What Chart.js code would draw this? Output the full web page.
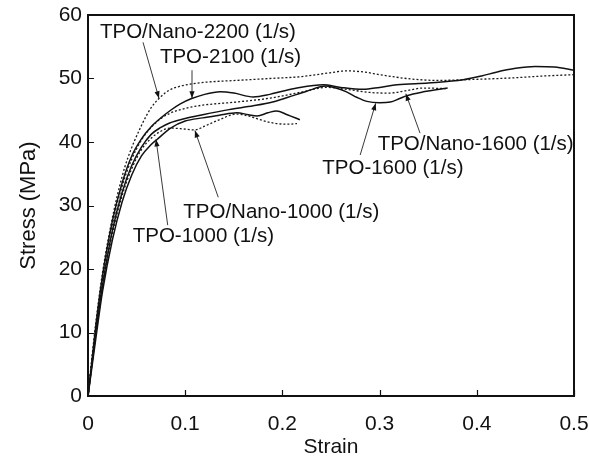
<!DOCTYPE html>
<html>
<head>
<meta charset="utf-8">
<script src="https://cdn.jsdelivr.net/npm/chart.js@4/dist/chart.umd.min.js"></script>
<style>
  html, body { margin: 0; padding: 0; background: #fff; }
  #wrap { width: 589px; height: 460px; }
</style>
</head>
<body>
<div id="wrap"><canvas id="c" width="589" height="460"></canvas></div>
<script>
// Stress-strain curves of TPO and TPO/Nano at several strain rates
const xTicks = [0, 0.1, 0.2, 0.3, 0.4, 0.5];
const yTicks = [0, 10, 20, 30, 40, 50, 60];

const tpo1000Strain = [0, 0.004, 0.008, 0.015, 0.025, 0.035, 0.045, 0.055, 0.065, 0.071, 0.085, 0.1, 0.118, 0.135, 0.153, 0.165, 0.174, 0.185, 0.194, 0.205, 0.218];
const tpo1000Stress = [0, 4.5, 9, 16.5, 24.5, 30.5, 34.8, 37.8, 39.6, 40.4, 42.2, 43.3, 43.8, 44.2, 44.6, 44.3, 44.1, 44.6, 44.9, 44.3, 43.5];

const nano1000Strain = [0, 0.004, 0.008, 0.015, 0.025, 0.035, 0.045, 0.055, 0.065, 0.075, 0.085, 0.095, 0.11, 0.12, 0.135, 0.153, 0.165, 0.175, 0.19, 0.205, 0.215];
const nano1000Stress = [0, 5, 9.5, 17, 25.5, 31.5, 35.8, 38.8, 40.6, 41.7, 42.2, 42.1, 41.9, 42.5, 43.5, 44.4, 44.1, 43.6, 43.0, 42.8, 42.9];

const tpo1600Strain = [0, 0.004, 0.008, 0.015, 0.025, 0.035, 0.045, 0.055, 0.065, 0.075, 0.084, 0.1, 0.118, 0.145, 0.17, 0.19, 0.205, 0.225, 0.245, 0.255, 0.266, 0.277, 0.287, 0.3, 0.311, 0.32, 0.328, 0.345, 0.37];
const tpo1600Stress = [0, 5, 10, 17.5, 26, 32, 36.3, 39.2, 41.2, 42.3, 43.0, 43.7, 44.3, 45.1, 45.7, 46.3, 47.0, 48.0, 48.8, 48.5, 47.9, 47.0, 46.4, 46.2, 46.3, 46.8, 47.3, 47.9, 48.5];

const nano1600Strain = [0, 0.004, 0.008, 0.015, 0.025, 0.035, 0.045, 0.055, 0.065, 0.075, 0.084, 0.1, 0.118, 0.153, 0.187, 0.221, 0.245, 0.27, 0.29, 0.31, 0.328, 0.345, 0.37];
const nano1600Stress = [0, 5.5, 10.5, 18.5, 27, 33, 37.3, 40.3, 42.3, 43.7, 44.5, 45.3, 45.8, 46.3, 46.9, 47.9, 48.6, 48.2, 47.8, 47.7, 48.1, 48.5, 48.4];

const tpo2100Strain = [0, 0.004, 0.008, 0.015, 0.025, 0.035, 0.045, 0.055, 0.065, 0.075, 0.085, 0.095, 0.106, 0.12, 0.136, 0.15, 0.17, 0.187, 0.2, 0.215, 0.242, 0.26, 0.283, 0.3, 0.318, 0.35, 0.386, 0.405, 0.42, 0.44, 0.46, 0.48, 0.5];
const tpo2100Stress = [0, 5.5, 11, 19, 27.5, 33.5, 37.8, 40.5, 42.4, 43.8, 45.0, 46.0, 46.8, 47.5, 47.9, 47.7, 47.1, 47.5, 48.0, 48.5, 49.0, 48.6, 48.3, 48.6, 49.0, 49.3, 49.8, 50.4, 51.0, 51.6, 51.9, 51.8, 51.3];

const nano2200Strain = [0, 0.004, 0.008, 0.015, 0.025, 0.035, 0.041, 0.055, 0.065, 0.074, 0.084, 0.095, 0.105, 0.12, 0.153, 0.187, 0.22, 0.249, 0.266, 0.285, 0.3, 0.334, 0.36, 0.386, 0.437, 0.47, 0.5];
const nano2200Stress = [0, 6, 11.5, 19.5, 28, 34.5, 37.5, 42.6, 45.4, 47.0, 48.2, 48.8, 49.1, 49.4, 49.7, 50.0, 50.3, 50.9, 51.2, 51.0, 50.6, 49.9, 49.7, 49.8, 50.1, 50.4, 50.6];

const seriesNames = ['TPO-1000 (1/s)', 'TPO/Nano-1000 (1/s)', 'TPO-1600 (1/s)', 'TPO/Nano-1600 (1/s)', 'TPO-2100 (1/s)', 'TPO/Nano-2200 (1/s)'];

// Callout labels: text anchor (left, middle) and arrow from tail to tip, all in data units
const callouts = [
  { text: 'TPO/Nano-2200 (1/s)', at: [0.0123, 57.2], tail: [0.0566, 55.7], tip: [0.073, 46.9] },
  { text: 'TPO-2100 (1/s)',      at: [0.074, 53.4],  tail: [0.107, 51.3],  tip: [0.107, 46.9] },
  { text: 'TPO/Nano-1600 (1/s)', at: [0.298, 39.7],  tail: [0.3416, 41.4], tip: [0.327, 47.6] },
  { text: 'TPO-1600 (1/s)',      at: [0.241, 35.9],  tail: [0.28, 37.95],  tip: [0.296, 46.1] },
  { text: 'TPO/Nano-1000 (1/s)', at: [0.098, 29.0],  tail: [0.134, 31.3],  tip: [0.110, 41.8] },
  { text: 'TPO-1000 (1/s)',      at: [0.046, 25.2],  tail: [0.082, 26.9],  tip: [0.070, 40.4] }
];

const FONT = '"Liberation Sans", Arial, Helvetica, sans-serif';

function pairs(xs, ys) { return xs.map((x, i) => ({ x: x, y: ys[i] })); }

function curve(label, xs, ys, dotted) {
  return {
    label: label,
    data: pairs(xs, ys),
    borderColor: dotted ? '#1a1a1a' : '#111',
    borderWidth: dotted ? 1.3 : 1.5,
    borderDash: dotted ? [2, 2] : [],
    pointRadius: 0,
    fill: false,
    showLine: true,
    cubicInterpolationMode: 'monotone'
  };
}

// Frame around the plot and inward tick marks on the left and bottom
const framePlugin = {
  id: 'frame',
  afterDatasetsDraw(chart) {
    const { ctx, chartArea: a, scales } = chart;
    ctx.save();
    ctx.strokeStyle = '#111';
    ctx.lineWidth = 1.2;
    ctx.beginPath();
    xTicks.forEach(v => {
      const px = Math.round(scales.x.getPixelForValue(v)) + 0.5;
      ctx.moveTo(px, a.bottom); ctx.lineTo(px, a.bottom - 6);
    });
    yTicks.forEach(v => {
      const py = Math.round(scales.y.getPixelForValue(v)) + 0.5;
      ctx.moveTo(a.left, py); ctx.lineTo(a.left + 6, py);
    });
    ctx.stroke();
    ctx.lineWidth = 2;
    ctx.strokeRect(a.left, a.top, a.right - a.left, a.bottom - a.top);
    ctx.restore();
  }
};

// Text labels with thin pointer arrows
const calloutPlugin = {
  id: 'callouts',
  afterDatasetsDraw(chart) {
    const { ctx, scales } = chart;
    const P = p => [scales.x.getPixelForValue(p[0]), scales.y.getPixelForValue(p[1])];
    ctx.save();
    ctx.font = '20.5px ' + FONT;
    ctx.fillStyle = '#111';
    ctx.textBaseline = 'middle';
    ctx.textAlign = 'left';
    callouts.forEach(c => {
      const [tx, ty] = P(c.at);
      ctx.fillText(c.text, tx, ty);
      const [x0, y0] = P(c.tail);
      const [x1, y1] = P(c.tip);
      ctx.strokeStyle = '#222';
      ctx.lineWidth = 0.9;
      ctx.beginPath(); ctx.moveTo(x0, y0); ctx.lineTo(x1, y1); ctx.stroke();
      const ang = Math.atan2(y1 - y0, x1 - x0);
      const L = 7, W = 2.6;
      ctx.beginPath();
      ctx.moveTo(x1, y1);
      ctx.lineTo(x1 - L * Math.cos(ang) + W * Math.sin(ang), y1 - L * Math.sin(ang) - W * Math.cos(ang));
      ctx.lineTo(x1 - L * Math.cos(ang) - W * Math.sin(ang), y1 - L * Math.sin(ang) + W * Math.cos(ang));
      ctx.closePath();
      ctx.fill();
    });
    ctx.restore();
  }
};

new Chart(document.getElementById('c'), {
  type: 'scatter',
  data: {
    datasets: [
      curve(seriesNames[0], tpo1000Strain, tpo1000Stress, false),
      curve(seriesNames[1], nano1000Strain, nano1000Stress, true),
      curve(seriesNames[2], tpo1600Strain, tpo1600Stress, false),
      curve(seriesNames[3], nano1600Strain, nano1600Stress, true),
      curve(seriesNames[4], tpo2100Strain, tpo2100Stress, false),
      curve(seriesNames[5], nano2200Strain, nano2200Stress, true)
    ]
  },
  options: {
    responsive: false,
    animation: false,
    devicePixelRatio: 1,
    layout: { padding: { left: 0, right: 15, top: 15, bottom: 0 } },
    plugins: { legend: { display: false }, tooltip: { enabled: false } },
    scales: {
      x: {
        type: 'linear', min: 0, max: 0.5,
        afterFit(s) { s.height = 64; s.paddingLeft = 0; s.paddingRight = 0; },
        afterBuildTicks(s) { s.ticks = xTicks.map(v => ({ value: v })); },
        grid: { display: false, drawTicks: false },
        border: { display: false },
        ticks: { color: '#111', padding: 16, maxRotation: 0, font: { family: FONT, size: 21 },
                 callback: v => String(v) },
        title: { display: true, text: 'Strain', color: '#111', padding: { top: 0, bottom: 0 },
                 font: { family: FONT, size: 21 } }
      },
      y: {
        type: 'linear', min: 0, max: 60,
        afterFit(s) { s.width = 88; s.paddingTop = 0; s.paddingBottom = 0; },
        afterBuildTicks(s) { s.ticks = yTicks.map(v => ({ value: v })); },
        grid: { display: false, drawTicks: false },
        border: { display: false },
        ticks: { color: '#111', padding: 6, font: { family: FONT, size: 21 } },
        title: { display: true, text: 'Stress (MPa)', color: '#111', padding: { top: 16, bottom: 0 },
                 font: { family: FONT, size: 22 } }
      }
    }
  },
  plugins: [framePlugin, calloutPlugin]
});
</script>
</body>
</html>
